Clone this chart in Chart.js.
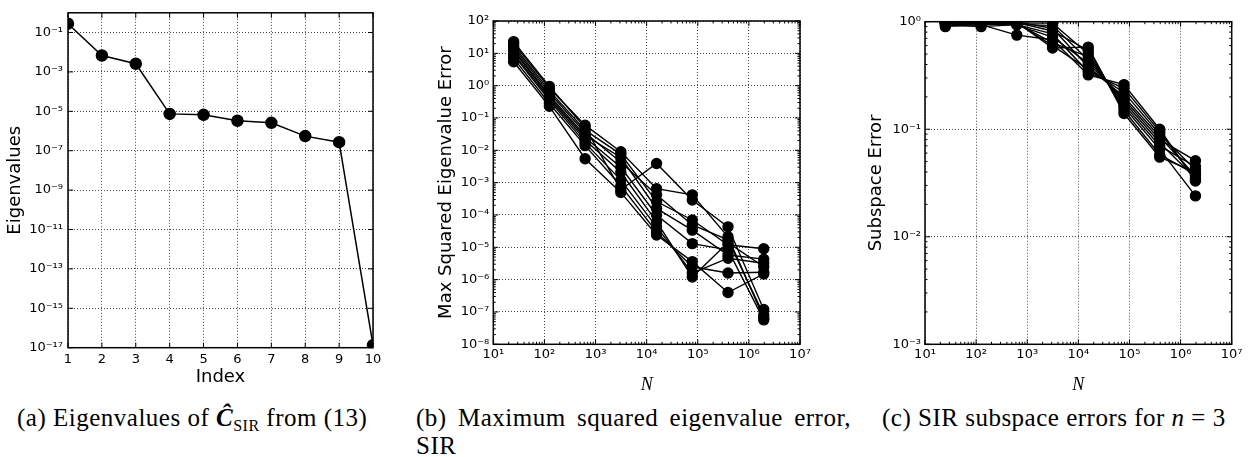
<!DOCTYPE html>
<html><head><meta charset="utf-8">
<script src="https://cdn.jsdelivr.net/npm/chart.js@4.4.1/dist/chart.umd.min.js"></script>
<style>
body{margin:0;background:#fff;width:1251px;height:457px;overflow:hidden;position:relative;}
canvas{position:absolute;top:0;}
.cap{position:absolute;font-family:'Liberation Serif','DejaVu Serif',serif;font-size:25px;line-height:28px;letter-spacing:0.5px;color:#000;}
.cap sub{font-size:16px;vertical-align:-5px;line-height:0;}
</style></head><body>
<canvas id="ca" width="390" height="388" style="left:0"></canvas>
<canvas id="cb" width="420" height="396" style="left:400px"></canvas>
<canvas id="cc" width="420" height="396" style="left:830px"></canvas>
<div class="cap" style="left:17px;top:404px;white-space:nowrap">(a) Eigenvalues of <b><i>Ĉ</i></b><sub>SIR</sub> from (13)</div>
<div class="cap" style="left:416px;top:404px;width:435px;text-align:justify">(b) Maximum squared eigenvalue error, SIR</div>
<div class="cap" style="left:882px;top:404px;white-space:nowrap">(c) SIR subspace errors for <i>n</i> = 3</div>
<script>
// ---- data ----
const eigIndex = [1, 2, 3, 4, 5, 6, 7, 8, 9, 10];
const eigValues = [0.28, 0.0068, 0.0026, 7.4e-6, 6.6e-6, 3.3e-6, 2.6e-6, 5.5e-7, 2.7e-7, 1.35e-17];
const eigTickExps = [-17, -15, -13, -11, -9, -7, -5, -3, -1];

const sampleSizes = [25, 125, 625, 3125, 15625, 78125, 390625, 1953125];
const nTickExps = [1, 2, 3, 4, 5, 6, 7];

// one row per run
const maxSqEigErr = [
  [23,  0.95, 0.050,  6.0e-4, 3.9e-3, 2.9e-4, 4.3e-5, 1.2e-7],
  [20,  0.85, 0.060,  9.0e-3, 6.5e-4, 4.2e-4, 2.1e-5, 6.5e-8],
  [17,  0.70, 0.042,  7.5e-3, 2.6e-4, 7.0e-5, 1.2e-5, 9.0e-6],
  [15,  0.60, 0.035,  4.3e-3, 4.2e-4, 4.9e-5, 1.7e-5, 8.0e-8],
  [13,  0.50, 0.029,  6.0e-3, 1.6e-4, 3.4e-5, 5.8e-6, 4.3e-6],
  [12,  0.45, 0.025,  3.0e-3, 1.0e-4, 1.3e-5, 8.3e-6, 5.7e-8],
  [10,  0.40, 0.021,  2.1e-3, 6.2e-5, 1.2e-6, 1.4e-5, 2.5e-6],
  [8.8, 0.35, 0.017,  1.2e-3, 4.3e-5, 1.6e-6, 4.6e-6, 3.2e-6],
  [7.0, 0.28, 0.014,  8.0e-4, 3.0e-5, 2.5e-6, 1.6e-6, 1.7e-6],
  [5.5, 0.23, 0.0055, 5.0e-4, 2.4e-5, 3.6e-6, 4.0e-7, 1.5e-6]
];
const eigErrTickExps = [-8, -7, -6, -5, -4, -3, -2, -1, 0, 1, 2];

const subspaceErr = [
  [1.00, 0.99, 0.99, 0.57, 0.58, 0.14, 0.055, 0.040],
  [0.99, 0.98, 0.98, 0.82, 0.54, 0.15, 0.058, 0.038],
  [0.98, 0.99, 0.97, 0.97, 0.50, 0.16, 0.065, 0.024],
  [0.99, 0.97, 0.96, 0.64, 0.47, 0.17, 0.070, 0.045],
  [0.97, 0.98, 0.95, 0.92, 0.44, 0.18, 0.075, 0.035],
  [0.98, 0.96, 0.93, 0.72, 0.41, 0.19, 0.080, 0.051],
  [0.96, 0.95, 0.99, 0.87, 0.38, 0.20, 0.085, 0.037],
  [0.95, 0.93, 0.97, 0.60, 0.36, 0.22, 0.090, 0.042],
  [0.93, 0.90, 0.94, 0.77, 0.34, 0.24, 0.095, 0.034],
  [0.90, 0.94, 0.75, 0.68, 0.32, 0.26, 0.100, 0.033]
];
const subTickExps = [-3, -2, -1, 0];

// ---- helpers ----
const SUP = {'-':'⁻','0':'⁰','1':'¹','2':'²','3':'³','4':'⁴','5':'⁵','6':'⁶','7':'⁷','8':'⁸','9':'⁹'};
const pow10Label = v => '10' + String(Math.round(Math.log10(v))).split('').map(c => SUP[c]).join('');
const decades = exps => exps.map(e => Math.pow(10, e));
const minorsOf = exps => { const out = []; for (let i = 0; i < exps.length - 1; i++) for (let k = 2; k <= 9; k++) out.push(k * Math.pow(10, exps[i])); return out; };

const TICK_FONT = {family: 'DejaVu Sans', size: 13};
const LABEL_FONT = {family: 'DejaVu Sans', size: 18};
const N_FONT = {family: 'Liberation Serif', size: 18, style: 'italic'};
const GRID = {color: '#444', lineWidth: 1, drawTicks: false};
const BORDER = {display: false, dash: [1, 2]};

const framePlugin = {
  id: 'frame',
  afterDraw(chart) {
    const o = chart.options.plugins.frame;
    const {ctx, chartArea: a} = chart;
    const x = chart.scales.x, y = chart.scales.y;
    ctx.save();
    ctx.strokeStyle = '#000';
    ctx.lineWidth = 1;
    const seg = (x1, y1, x2, y2) => { ctx.beginPath(); ctx.moveTo(x1, y1); ctx.lineTo(x2, y2); ctx.stroke(); };
    const xt = (vals, len) => vals.forEach(v => { const p = x.getPixelForValue(v); if (p < a.left - 0.5 || p > a.right + 0.5) return; seg(p, a.bottom, p, a.bottom - len); seg(p, a.top, p, a.top + len); });
    const yt = (vals, len) => vals.forEach(v => { const p = y.getPixelForValue(v); if (p < a.top - 0.5 || p > a.bottom + 0.5) return; seg(a.left, p, a.left + len, p); seg(a.right, p, a.right - len, p); });
    xt(o.xMajor, 5); xt(o.xMinor, 2.5);
    yt(o.yMajor, 5); yt(o.yMinor, 2.5);
    ctx.lineWidth = 1.5;
    ctx.strokeRect(a.left, a.top, a.width, a.height);
    ctx.restore();
  }
};

function setTicks(values) {
  return scale => { scale.ticks = values.map(v => ({value: v})); };
}

// ---- panel (a) ----
new Chart(document.getElementById('ca'), {
  type: 'line',
  data: {
    labels: eigIndex,
    datasets: [{
      data: eigIndex.map((ix, i) => ({x: ix, y: eigValues[i]})),
      borderColor: '#000', backgroundColor: '#000', borderWidth: 1.5,
      pointRadius: 5.5, pointHoverRadius: 5.5, clip: 0, tension: 0
    }]
  },
  options: {
    responsive: false, animation: false, events: [],
    layout: {padding: {left: 0, top: 12, right: 17, bottom: 0}},
    plugins: {legend: {display: false}, tooltip: {enabled: false},
      frame: {xMajor: eigIndex, xMinor: [], yMajor: decades(eigTickExps), yMinor: []}},
    scales: {
      x: {type: 'linear', min: 1, max: 10, border: BORDER, grid: GRID,
        afterBuildTicks: setTicks(eigIndex), afterFit: s => { s.height = 40.3; },
        ticks: {font: TICK_FONT, color: '#000', padding: 4, autoSkip: false, maxRotation: 0, callback: v => String(v)},
        title: {display: true, text: 'Index', font: LABEL_FONT, color: '#000', padding: {top: 0, bottom: 0}}},
      y: {type: 'logarithmic', min: 1e-17, max: 1, border: BORDER, grid: GRID,
        afterBuildTicks: setTicks(decades(eigTickExps)), afterFit: s => { s.width = 68; },
        ticks: {font: TICK_FONT, color: '#000', padding: 5, autoSkip: false, callback: v => pow10Label(v)},
        title: {display: true, text: 'Eigenvalues', font: LABEL_FONT, color: '#000', padding: {top: 5, bottom: 0}}}
    }
  },
  plugins: [framePlugin]
});

// ---- panels (b), (c) ----
function errChart(id, runs, yMin, yMax, yExps, yTitle, yWidth, pad) {
  new Chart(document.getElementById(id), {
    type: 'line',
    data: {
      datasets: runs.map(r => ({
        data: sampleSizes.map((n, i) => ({x: n, y: r[i]})),
        borderColor: '#000', backgroundColor: '#000', borderWidth: 1.4,
        pointRadius: 5, pointHoverRadius: 5, clip: 0, tension: 0
      }))
    },
    options: {
      responsive: false, animation: false, events: [],
      layout: {padding: pad},
      plugins: {legend: {display: false}, tooltip: {enabled: false},
        frame: {xMajor: decades(nTickExps), xMinor: minorsOf(nTickExps), yMajor: decades(yExps), yMinor: minorsOf(yExps)}},
      scales: {
        x: {type: 'logarithmic', min: 10, max: 1e7, border: BORDER, grid: GRID,
          afterBuildTicks: setTicks(decades(nTickExps)), afterFit: s => { s.height = 51.7; },
          ticks: {font: TICK_FONT, color: '#000', padding: 3, autoSkip: false, maxRotation: 0, callback: v => pow10Label(v)},
          title: {display: true, text: 'N', font: N_FONT, color: '#000', padding: {top: 0, bottom: 0}}},
        y: {type: 'logarithmic', min: yMin, max: yMax, border: BORDER, grid: GRID,
          afterBuildTicks: setTicks(decades(yExps)), afterFit: s => { s.width = yWidth; },
          ticks: {font: TICK_FONT, color: '#000', padding: 4, autoSkip: false, callback: v => pow10Label(v)},
          title: {display: true, text: yTitle, font: LABEL_FONT, color: '#000', padding: {top: 36, bottom: 0}}}
      }
    },
    plugins: [framePlugin]
  });
}
errChart('cb', maxSqEigErr, 1e-8, 100, eigErrTickExps, 'Max Squared Eigenvalue Error', 93.3, {left: 0, top: 21, right: 20, bottom: 0});
errChart('cc', subspaceErr, 1e-3, 1, subTickExps, 'Subspace Error', 95, {left: 0, top: 21.7, right: 18.3, bottom: 0});
</script>
</body></html>
